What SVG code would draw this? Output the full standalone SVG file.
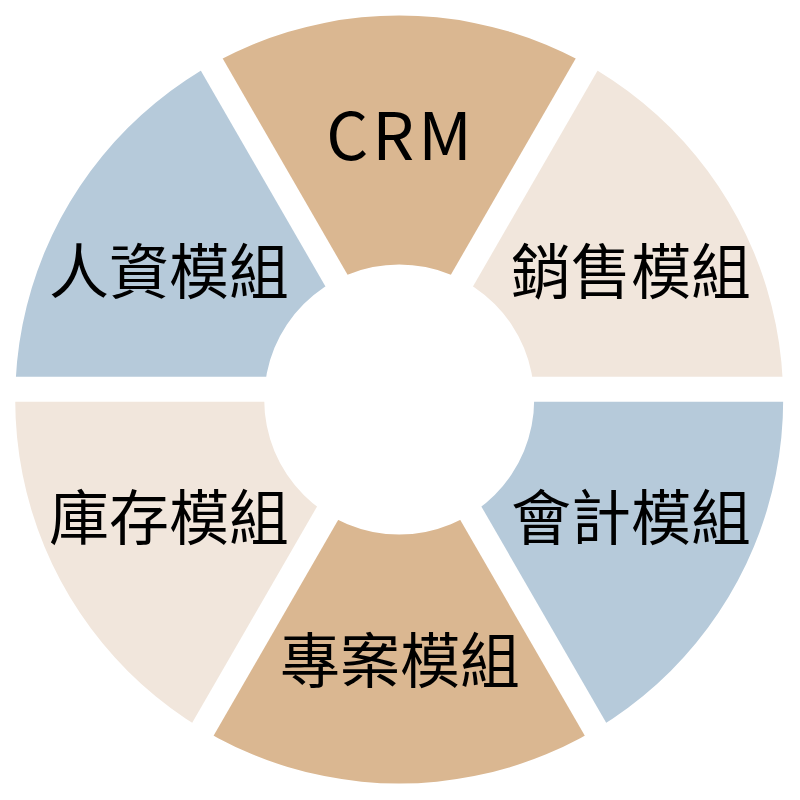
<svg xmlns="http://www.w3.org/2000/svg" width="800" height="800" viewBox="0 0 800 800">
  <style>
    .tan { fill: #DAB791; }
    .blue { fill: #B6CADA; }
    .beige { fill: #F1E6DC; }
    .lbl { font-family: "Noto Sans CJK TC", "Noto Sans CJK SC", "Noto Sans", sans-serif; font-size: 60px; fill: #000000; text-anchor: middle; }
    .crm { font-size: 66px; letter-spacing: 4px; }
  </style>
  <defs>
    <clipPath id="ring">
      <path clip-rule="evenodd" d="M 15.2 399.5 A 384 384 0 1 0 783.2 399.5 A 384 384 0 1 0 15.2 399.5 Z M 264.2 399.5 A 135 135 0 1 0 534.2 399.5 A 135 135 0 1 0 264.2 399.5 Z"/>
    </clipPath>
  </defs>
  <rect width="800" height="800" fill="#FFFFFF"/>
  <g id="connectors"></g>
  <g id="crm">
    <polygon class="tan" clip-path="url(#ring)" points="399.2,364.2 99.2,-155.4 699.2,-155.4"/>
    <text class="lbl crm" x="401" y="160">CRM</text>
  </g>
  <g id="sales">
    <polygon class="beige" clip-path="url(#ring)" points="420.85,376.7 720.85,-142.9 1020.85,376.7"/>
    <text class="lbl" x="631" y="294">銷售模組</text>
  </g>
  <g id="accounting">
    <polygon class="blue" clip-path="url(#ring)" points="420.85,401.7 1020.85,401.7 720.85,921.3"/>
    <text class="lbl" x="631" y="540">會計模組</text>
  </g>
  <g id="project">
    <polygon class="tan" clip-path="url(#ring)" points="399.2,414.2 699.2,933.8 99.2,933.8"/>
    <text class="lbl" x="400" y="683">專案模組</text>
  </g>
  <g id="inventory">
    <polygon class="beige" clip-path="url(#ring)" points="377.55,401.7 77.55,921.3 -222.45,401.7"/>
    <text class="lbl" x="169" y="540">庫存模組</text>
  </g>
  <g id="hr">
    <polygon class="blue" clip-path="url(#ring)" points="377.55,376.7 -222.45,376.7 77.55,-142.9"/>
    <text class="lbl" x="169" y="294">人資模組</text>
  </g>
</svg>
